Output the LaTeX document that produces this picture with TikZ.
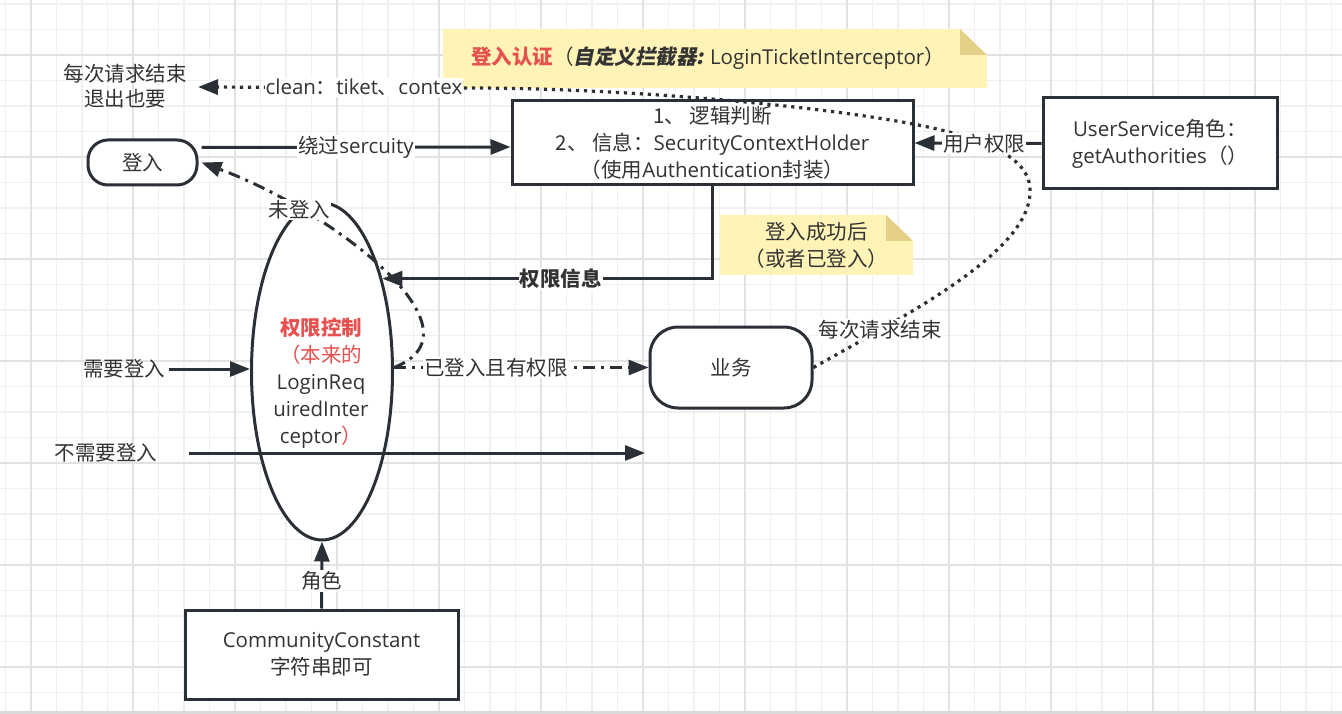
\documentclass[tikz,border=0pt]{standalone}
\usepackage{fontspec}
\setmainfont{Noto Sans CJK SC}
\newfontfamily\cjkslant{Noto Sans CJK SC}[FakeSlant=0.2]
\newfontfamily\enfont{Open Sans}
\newcommand{\en}[1]{{\enfont #1}}
\usetikzlibrary{arrows.meta,shapes.geometric}
\definecolor{ink}{HTML}{2B3036}
\definecolor{txt}{HTML}{333333}
\definecolor{redtxt}{HTML}{E6504F}
\definecolor{notey}{HTML}{FFF3B8}
\definecolor{foldy}{HTML}{E3CF86}
\definecolor{gridmin}{HTML}{F0F0F0}
\definecolor{gridmaj}{HTML}{E2E2E2}
\tikzset{
  every node/.style={font=\fontsize{20.5}{27}\selectfont, text=txt, align=center},
  box/.style={draw=ink, line width=3pt, fill=white},
  rbox/.style={box, rounded corners=20pt},
  lbl/.style={fill=white, inner sep=1pt},
  arr/.style={draw=ink, line width=3pt, -{Triangle[length=20pt,width=15pt]}},
  dashdotarr/.style={arr, dash pattern=on 12pt off 6pt on 3pt off 6pt},
  dotarr/.style={arr, line width=3.2pt, dash pattern=on 3.2pt off 4.8pt},
  note/.style={path picture={
    \fill[notey] (path picture bounding box.south west) -- (path picture bounding box.north west)
      -- ([xshift=-27pt]path picture bounding box.north east) -- ([yshift=-26pt]path picture bounding box.north east)
      -- (path picture bounding box.south east) -- cycle;
    \fill[foldy] ([xshift=-27pt]path picture bounding box.north east) -- ([xshift=-27pt,yshift=-26pt]path picture bounding box.north east)
      -- ([yshift=-26pt]path picture bounding box.north east) -- cycle;}}
}
\begin{document}
\begin{tikzpicture}[x=1pt,y=-1pt]
\useasboundingbox (0,0) rectangle (1342,714);
% grid paper
\fill[white] (0,0) rectangle (1342,714);
\foreach \i in {0,...,52} \draw[gridmin,line width=1.6pt] ({5.5+25.5*\i},0) -- ++(0,714);
\foreach \i in {0,...,27} \draw[gridmin,line width=1.6pt] (0,{4+25.5*\i}) -- ++(1342,0);
\foreach \i in {0,...,12} \draw[gridmaj,line width=1.6pt] ({31+102*\i},0) -- ++(0,714);
\foreach \i in {0,...,6} \draw[gridmaj,line width=1.6pt] (0,{55+102*\i}) -- ++(1342,0);
\draw[gray!30,line width=3pt] (0,712.5) -- (1342,712.5);

% nodes
\node[note, minimum width=544, minimum height=59] (authnote) at (715,58.5)
  {{\color{redtxt}\bfseries 登入认证}（{\cjkslant\bfseries 自定义拦截器:} \en{LoginTicketInterceptor}）\hspace*{14pt}};
\node (reqend) at (125,86) {每次请求结束\\[-2pt]退出也要};
\node[rbox, minimum width=109, minimum height=45] (login) at (142.5,162.5) {登入};
\node[box, minimum width=401, minimum height=84] (sch) at (712.5,143)
  {1、 逻辑判断\\2、 信息：\en{SecurityContextHolder}\\（使用\en{Authentication}封装）};
\node[box, minimum width=234, minimum height=91] (usr) at (1160,143.5) {\en{UserService}角色：\\\en{getAuthorities}（）};
\node[note, minimum width=193, minimum height=60] (oknote) at (816.5,245) {登入成功后\\（或者已登入）};
\node[box, ellipse, minimum width=141, minimum height=337] (ctl) at (322,371.5) {};
\node (ctltxt) at (321,383) {{\color{redtxt}\bfseries 权限控制}\\{\color{redtxt}（本来的}\\\en{LoginReq}\\\en{uiredInter}\\\en{ceptor}{\color{redtxt}）}};
\node[rbox, rounded corners=28pt, minimum width=162, minimum height=81] (biz) at (731,367.5) {业务};
\node (need) at (124,369) {需要登入};
\node (noneed) at (106,453) {不需要登入};
\coordinate (nend) at (645,453);
\coordinate (cleanend) at (198,87);
\node[box, minimum width=273, minimum height=89] (cc) at (321.5,654.5) {\en{CommunityConstant}\\字符串即可};

% connectors
\draw[dotarr] (biz.east) .. controls (912,312) and (1032,250) .. (1030,190) node[lbl, pos=0.22] {每次请求结束}
  .. controls (1030,150) and (960,133) .. (913,124)
  .. controls (813,105) and (620,88) .. (470,88)
  -- (cleanend) node[lbl, pos=0.39] {\en{clean}：\en{tiket}、\en{contex}};
\draw[arr] ([xshift=3pt,yshift=15pt]login.east) -- ([yshift=-4pt]sch.west) node[lbl, midway] {绕过\en{sercuity}};
\draw[arr] (usr.west) -- (sch.east) node[lbl, pos=0.45] {用户权限};
\draw[arr] (sch.south) |- (ctl.57) node[lbl, pos=0.73, font=\fontsize{20.5}{27}\selectfont\bfseries] {权限信息};
\draw[dashdotarr] (ctl.east |- biz.west) .. controls (490,330) and (330,210) .. ([xshift=3pt]login.east)
  node[lbl, pos=0.75] {未登入};
\draw[dashdotarr] (ctl.east |- biz.west) -- (biz.west) node[lbl, pos=0.4] {已登入且有权限};
\draw[arr] (need.east) -- (ctl.west |- need.east);
\draw[arr] ([xshift=28pt]noneed.east) -- (nend);
\draw[arr] (cc.north) -- (ctl.south) node[lbl, pos=0.41] {角色};
\end{tikzpicture}
\end{document}
